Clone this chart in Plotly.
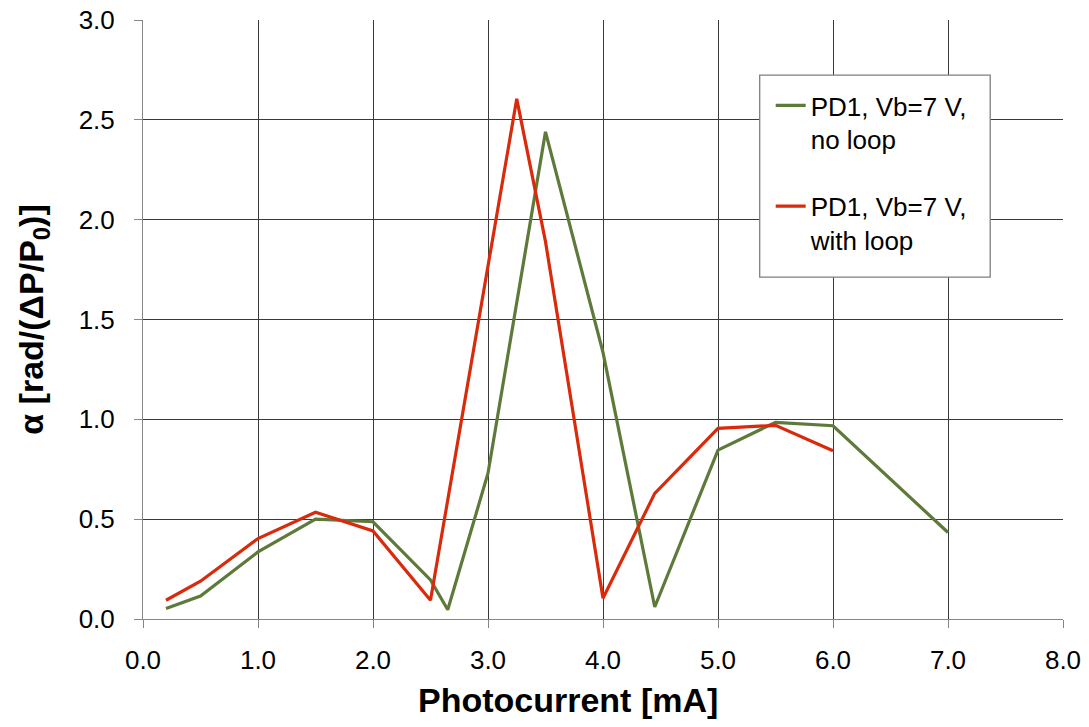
import plotly.graph_objects as go

# Data
x_noloop = [0.2, 0.5, 1.0, 1.5, 2.0, 2.5, 2.65, 3.0, 3.5, 4.0, 4.45, 5.0, 5.5, 6.0, 7.0]
y_noloop = [0.052, 0.115, 0.336, 0.50, 0.487, 0.196, 0.046, 0.73, 2.44, 1.335, 0.06, 0.846, 0.985, 0.968, 0.433]

x_loop = [0.2, 0.5, 1.0, 1.5, 2.0, 2.5, 3.25, 3.5, 4.0, 4.45, 5.0, 5.5, 6.0]
y_loop = [0.094, 0.189, 0.403, 0.535, 0.441, 0.094, 2.605, 1.89, 0.104, 0.629, 0.955, 0.97, 0.843]

x_ticks = [0, 1, 2, 3, 4, 5, 6, 7, 8]
y_ticks = [0, 0.5, 1.0, 1.5, 2.0, 2.5, 3.0]

names = ["PD1, Vb=7 V,<br>no loop", "PD1, Vb=7 V,<br>with loop"]
x_title = "<b>Photocurrent [mA]</b>"
y_title = "<b>α [rad/(ΔP/P<sub>0</sub>)]</b>"

GREEN = "#5E7A3A"
RED = "#D92A0C"
FONT = "Liberation Sans, Arial, sans-serif"

fig = go.Figure()
fig.add_trace(go.Scatter(x=x_noloop, y=y_noloop, mode="lines", name=names[0],
                         legendgroup="g1",
                         line=dict(color=GREEN, width=3.2)))
fig.add_trace(go.Scatter(x=x_loop, y=y_loop, mode="lines", name=names[1],
                         legendgroup="g2",
                         line=dict(color=RED, width=3.2)))

# legend frame
fig.add_shape(type="rect", xref="paper", yref="paper",
              x0=(760 - 143.3) / 920, x1=(990.5 - 143.3) / 920,
              y0=(618.7 - 277) / 598.7, y1=(618.7 - 75) / 598.7,
              line=dict(color="#7f7f7f", width=1.3), fillcolor="white", layer="above")

# x-axis title (offset left as in the reference)
fig.add_annotation(text=x_title, xref="paper", yref="paper",
                   x=(568 - 143.3) / 920, y=-(700 - 618.7) / 598.7,
                   xanchor="center", yanchor="middle", showarrow=False,
                   font=dict(family=FONT, size=34, color="black"))

fig.update_layout(
    width=1089, height=727,
    margin=dict(l=143, r=26, t=20, b=108),
    paper_bgcolor="white", plot_bgcolor="white",
    font=dict(family=FONT, size=26, color="black"),
    showlegend=True,
    legend=dict(
        x=(771 - 143.3) / 920, y=(618.7 - 82) / 598.7, xanchor="left", yanchor="top",
        bgcolor="rgba(0,0,0,0)", borderwidth=0,
        font=dict(family=FONT, size=26, color="black"),
        tracegroupgap=30, itemwidth=30, valign="top",
    ),
    xaxis=dict(
        range=[0, 8], tickvals=x_ticks, tickformat=".1f", automargin=False,
        showgrid=True, gridcolor="#3a3a3a", gridwidth=1,
        showline=True, linecolor="#868686", linewidth=1,
        ticks="outside", ticklen=8, tickcolor="#868686",
        zeroline=False, ticklabelstandoff=10,
        tickfont=dict(family=FONT, size=26),
    ),
    yaxis=dict(
        range=[0, 3.0], tickvals=y_ticks, tickformat=".1f", automargin=False,
        showgrid=True, gridcolor="#3a3a3a", gridwidth=1,
        showline=True, linecolor="#868686", linewidth=1,
        ticks="outside", ticklen=8, tickcolor="#868686",
        zeroline=False, ticklabelstandoff=14,
        title=dict(text=y_title, font=dict(family=FONT, size=34), standoff=24),
        tickfont=dict(family=FONT, size=26),
    ),
)

fig.write_html("out.html")
